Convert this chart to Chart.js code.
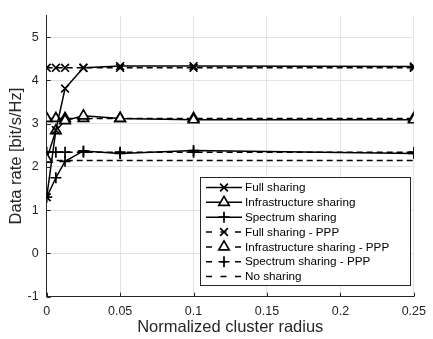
<!DOCTYPE html>
<html><head><meta charset="utf-8">
<style>html,body{margin:0;padding:0;background:#fff;}#wrap{width:433px;height:339px;position:relative;}</style>
<script src="https://cdn.jsdelivr.net/npm/chart.js@4/dist/chart.umd.min.js"></script>
</head><body><div id="wrap"><canvas id="c" width="433" height="339"></canvas></div>
<script>
// ---- data ----
const clusterRadius   = [0, 0.00625, 0.0125, 0.025, 0.05, 0.1, 0.25];
const fullSharing     = [1.30, 2.85, 3.81, 4.29, 4.33, 4.33, 4.32];
const infraSharing    = [2.18, 2.84, 3.07, 3.18, 3.12, 3.09, 3.09];
const spectrumSharing = [1.30, 1.75, 2.13, 2.37, 2.31, 2.38, 2.31];
const fullPPP         = [4.29, 4.29, 4.29, 4.29, 4.29, 4.29, 4.29];
const infraPPP        = [3.12, 3.12, 3.12, 3.12, 3.12, 3.12, 3.12];
const spectrumPPP     = [2.34, 2.34, 2.34, 2.34, 2.34, 2.34, 2.34];
const noSharing       = [2.15, 2.15, 2.15, 2.15, 2.15, 2.15, 2.15];
const xTicks = [0, 0.05, 0.1, 0.15, 0.2, 0.25];
const yTicks = [-1, 0, 1, 2, 3, 4, 5];
const seriesNames = ['Full sharing','Infrastructure sharing','Spectrum sharing',
  'Full sharing - PPP','Infrastructure sharing - PPP','Spectrum sharing - PPP','No sharing'];

const FONT = '"Liberation Sans", Arial, Helvetica, sans-serif';
const TXT = '#262626';
const DASH = [6, 4];
const markerOf = {crossRot: 5.5, triangle: 6, cross: 5.5};

function ds(label, values, style, dashed) {
  return {
    label, data: values.map((v, i) => ({x: clusterRadius[i], y: v})),
    borderColor: '#000', backgroundColor: '#fff', borderWidth: 1.5,
    borderDash: dashed ? DASH : [], tension: 0,
    pointStyle: style || 'circle', pointRadius: style ? markerOf[style] : 0,
    pointBorderWidth: 1.7, pointBorderColor: '#000', pointBackgroundColor: '#fff',
    fill: false
  };
}
const seriesDefs = [
  [fullSharing, 'crossRot', false],
  [infraSharing, 'triangle', false],
  [spectrumSharing, 'cross', false],
  [fullPPP, 'crossRot', true],
  [infraPPP, 'triangle', true],
  [spectrumPPP, 'cross', true],
  [noSharing, null, true]
];
const datasets = seriesDefs.map((d, i) => ds(seriesNames[i], d[0], d[1], d[2]));

function drawMarker(ctx, style, x, y) {
  const r = markerOf[style];
  ctx.save();
  ctx.setLineDash([]);
  ctx.lineWidth = 1.7; ctx.strokeStyle = '#000'; ctx.fillStyle = '#fff';
  ctx.beginPath();
  if (style === 'crossRot') {
    const o = r * Math.SQRT1_2;
    ctx.moveTo(x - o, y - o); ctx.lineTo(x + o, y + o);
    ctx.moveTo(x + o, y - o); ctx.lineTo(x - o, y + o);
    ctx.stroke();
  } else if (style === 'cross') {
    ctx.moveTo(x - r, y); ctx.lineTo(x + r, y);
    ctx.moveTo(x, y - r); ctx.lineTo(x, y + r);
    ctx.stroke();
  } else if (style === 'triangle') {
    let a = 0;
    ctx.moveTo(x + Math.sin(a) * r, y - Math.cos(a) * r);
    a += 2 * Math.PI / 3; ctx.lineTo(x + Math.sin(a) * r, y - Math.cos(a) * r);
    a += 2 * Math.PI / 3; ctx.lineTo(x + Math.sin(a) * r, y - Math.cos(a) * r);
    ctx.closePath(); ctx.fill(); ctx.stroke();
  }
  ctx.restore();
}

const extras = {
  id: 'extras',
  afterDraw(chart) {
    const ctx = chart.ctx, xs = chart.scales.x, ys = chart.scales.y, a = chart.chartArea;
    ctx.save();
    // inward ticks
    ctx.strokeStyle = TXT; ctx.lineWidth = 1;
    ctx.beginPath();
    xTicks.forEach(v => { const px = Math.round(xs.getPixelForValue(v)) + 0.5; ctx.moveTo(px, a.bottom); ctx.lineTo(px, a.bottom - 4); });
    yTicks.forEach(v => { const py = Math.round(ys.getPixelForValue(v)) + 0.5; ctx.moveTo(a.left, py); ctx.lineTo(a.left + 4, py); });
    ctx.stroke();
    // legend
    const L = 200.5, T = 177.5, W = 210, H = 108;
    ctx.fillStyle = '#fff'; ctx.fillRect(L, T, W, H);
    ctx.strokeStyle = '#262626'; ctx.lineWidth = 1; ctx.strokeRect(L, T, W, H);
    ctx.font = '11.7px ' + FONT; ctx.textBaseline = 'middle'; ctx.textAlign = 'left';
    seriesDefs.forEach((d, i) => {
      const y = 187.5 + i * 14.85;
      ctx.save();
      ctx.strokeStyle = '#000'; ctx.lineWidth = 1.5;
      ctx.setLineDash(d[2] ? [6, 8.5] : []);
      ctx.beginPath(); ctx.moveTo(206, y); ctx.lineTo(242, y); ctx.stroke();
      ctx.restore();
      if (d[1]) drawMarker(ctx, d[1], 224, y);
      ctx.fillStyle = '#000';
      ctx.fillText(seriesNames[i], 245, y + 0.5);
    });
    ctx.restore();
  }
};

new Chart(document.getElementById('c'), {
  type: 'line',
  data: { datasets },
  plugins: [extras],
  options: {
    responsive: false, animation: false, devicePixelRatio: 1,
    layout: { padding: { top: 9, right: 11.3, bottom: 0, left: 0 } },
    plugins: { legend: { display: false }, tooltip: { enabled: false } },
    elements: { line: { tension: 0 } },
    scales: {
      x: {
        type: 'linear', min: 0, max: 0.25,
        afterBuildTicks: s => { s.ticks = xTicks.map(v => ({ value: v })); },
        afterFit: s => { s.height = 42.3; },
        ticks: { font: { size: 12.5, family: FONT }, color: TXT, padding: 7, maxRotation: 0, autoSkip: false, callback: v => String(v) },
        grid: { color: '#e3e3e3', lineWidth: 1, drawTicks: false },
        border: { color: TXT, width: 1 },
        title: { display: true, text: 'Normalized cluster radius', color: TXT, font: { size: 16.5, family: FONT }, padding: { top: 0, bottom: 2 } }
      },
      y: {
        type: 'linear', min: -1, max: 5.5,
        afterBuildTicks: s => { s.ticks = yTicks.map(v => ({ value: v })); },
        afterFit: s => { s.width = 46.7; },
        ticks: { font: { size: 12.5, family: FONT }, color: TXT, padding: 8, autoSkip: false, callback: v => String(v) },
        grid: { color: '#e3e3e3', lineWidth: 1, drawTicks: false },
        border: { color: TXT, width: 1 },
        title: { display: true, text: 'Data rate [bit/s/Hz]', color: TXT, font: { size: 16.5, family: FONT }, padding: { top: 7, bottom: 0 } }
      }
    }
  }
});
</script></body></html>
